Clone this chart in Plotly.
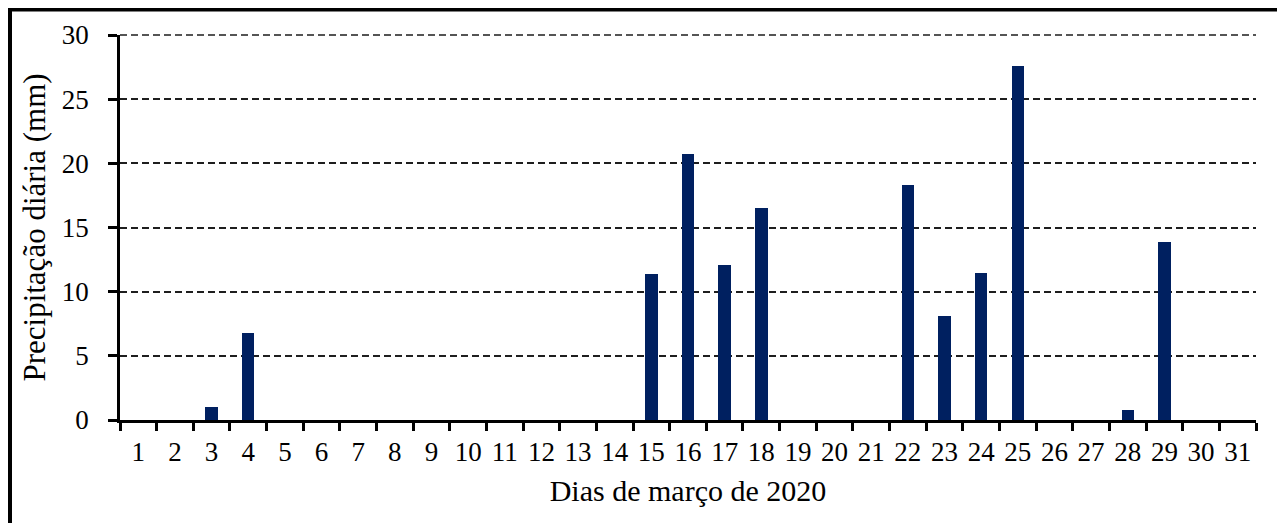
import plotly.graph_objects as go

days = [str(d) for d in range(1, 32)]
precip = [0, 0, 1.05, 6.8, 0, 0, 0, 0, 0, 0, 0, 0, 0, 0, 11.35, 20.7, 12.08, 16.5,
          0, 0, 0, 18.3, 8.13, 11.48, 27.55, 0, 0, 0.78, 13.9, 0, 0]
y_ticks = [0, 5, 10, 15, 20, 25, 30]

# page has an 8px body margin: the figure starts at page pixel (8, 8)
OFF = 8
PAGE_W, PAGE_H = 1285, 523
W, H = PAGE_W - OFF, PAGE_H - OFF
PL, PR, PT, PB = 120, 1256, 35, 420   # plot area in page pixels
L, R, T, B = PL - OFF, PAGE_W - PR, PT - OFF, PAGE_H - PB
PW, PH = PR - PL, PB - PT

def px_x(p):
    return (p - PL) / PW

def px_y(p):
    return (PB - p) / PH

FONT = "Liberation Serif"
GRID = dict(color="#1e1e1e", width=1.7, dash="7px,4px")

fig = go.Figure()
fig.add_trace(go.Bar(
    x=days, y=precip,
    marker=dict(color="#002060", line=dict(width=0)),
    width=0.34,
))

fig.update_layout(
    width=W, height=H,
    margin=dict(l=L, r=R, t=T, b=B, autoexpand=False),
    paper_bgcolor="white", plot_bgcolor="white",
    showlegend=False,
    font=dict(family=FONT, color="black", size=28),
    xaxis=dict(
        type="category",
        tickson="boundaries",
        ticks="outside", ticklen=8, tickwidth=2.5, tickcolor="black",
        showline=True, linecolor="black", linewidth=2.5,
        showgrid=False,
        tickangle=0,
        ticklabelstandoff=6,
        tickfont=dict(family=FONT, size=27),
        title=dict(text="Dias de março de 2020", font=dict(family=FONT, size=30), standoff=14),
        automargin=False,
    ),
    yaxis=dict(
        range=[0, max(y_ticks)], tickvals=y_ticks,
        ticks="outside", ticklen=9, tickwidth=2.5, tickcolor="black",
        showline=True, linecolor="black", linewidth=2.5,
        showgrid=True, gridcolor=GRID["color"], gridwidth=GRID["width"], griddash=GRID["dash"],
        zeroline=False,
        tickfont=dict(family=FONT, size=27),
        ticklabelstandoff=14,
        title=dict(text="Precipitação diária (mm)", font=dict(family=FONT, size=31), standoff=7),
        automargin=False,
    ),
    bargap=0,
)

# top gridline on the upper range edge (plotly hides gridlines on the edge);
# paper-referenced so it is not clipped by the plot area
fig.add_shape(type="line", xref="paper", yref="paper", layer="below",
              x0=0, x1=1, y0=1, y1=1,
              line=GRID)

# figure frame (as in the source document)
fig.add_shape(type="line", xref="paper", yref="paper",
              x0=px_x(8), x1=px_x(1282), y0=px_y(9.5), y1=px_y(9.5),
              line=dict(color="black", width=4))
fig.add_shape(type="line", xref="paper", yref="paper",
              x0=px_x(10), x1=px_x(10), y0=px_y(8), y1=px_y(530),
              line=dict(color="black", width=4))
fig.add_shape(type="line", xref="paper", yref="paper",
              x0=px_x(1279.5), x1=px_x(1279.5), y0=px_y(10), y1=px_y(530),
              line=dict(color="#b0b0b0", width=1.5))

fig.write_html("out.html")
